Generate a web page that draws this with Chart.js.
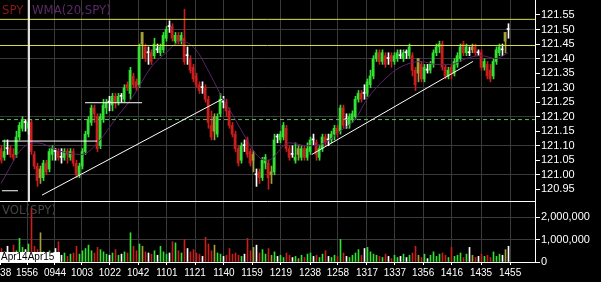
<!DOCTYPE html>
<html><head><meta charset="utf-8">
<script src="https://cdn.jsdelivr.net/npm/chart.js@4.4.0/dist/chart.umd.min.js"></script>
<style>
html,body{margin:0;padding:0;background:#000;width:601px;height:282px;overflow:hidden}
.c{position:absolute;left:0}
.lbl{position:absolute;white-space:nowrap;font-family:"Liberation Sans Narrow","DejaVu Sans Condensed","Liberation Sans",Arial,sans-serif;font-size:13px;line-height:13px}
</style></head><body>
<canvas id="pc" class="c" style="top:0" width="601" height="202"></canvas>
<canvas id="vc" class="c" style="top:202px" width="601" height="80"></canvas>
<div class="lbl" style="left:2px;top:3px;color:#8a1b1b">SPY</div>
<div class="lbl" style="left:32px;top:3px;color:#5b2a68">WMA(20,SPY)</div>
<div class="lbl" style="left:2px;top:203px;color:#454545">VOL(SPY)</div>
<div class="lbl" style="left:0;top:252px;width:60px;height:10px;background:#fff;color:#000;font-family:'Liberation Sans',Arial,sans-serif;font-size:10px;line-height:10px;padding-left:1px;box-sizing:border-box">Apr14Apr15</div>
<script>
// ---------- data ----------
const opens = [
121.09,121.06,121.09,121.09,121.07,121.07,121.13,121.16,121.18,121.16,
121.18,121.07,121.03,121.02,120.99,121.04,121.02,121.07,121.08,121.08,
121.06,121.06,121.08,121.06,121.08,121.04,121.00,121.03,121.08,121.14,
121.18,121.23,121.20,121.10,121.19,121.23,121.25,121.24,121.27,121.25,
121.27,121.26,121.31,121.28,121.34,121.32,121.31,121.49,121.44,121.42,
121.42,121.41,121.43,121.42,121.43,121.47,121.51,121.51,121.46,121.48,
121.46,121.47,121.41,121.40,121.37,121.34,121.31,121.30,121.30,121.26,
121.17,121.20,121.14,121.21,121.25,121.25,121.22,121.17,121.14,121.09,
121.05,121.10,121.12,121.08,121.07,121.00,121.01,120.99,121.04,121.04,
121.01,121.01,121.13,121.12,121.13,121.16,121.09,121.07,121.05,121.09,
121.06,121.09,121.06,121.08,121.12,121.11,121.06,121.09,121.13,121.12,
121.12,121.14,121.16,121.15,121.23,121.19,121.17,121.19,121.20,121.26,
121.28,121.28,121.28,121.31,121.34,121.40,121.42,121.39,121.41,121.40,
121.41,121.39,121.40,121.41,121.40,121.42,121.41,121.41,121.36,121.40,
121.38,121.33,121.36,121.36,121.38,121.42,121.44,121.45,121.37,121.34,
121.37,121.35,121.38,121.40,121.45,121.42,121.42,121.44,121.44,121.42,
121.42,121.37,121.38,121.36,121.34,121.39,121.42,121.43,121.49,121.50];
const highs = [
121.10,121.12,121.12,121.10,121.09,121.15,121.18,121.20,121.19,121.19,
121.19,121.08,121.04,121.03,121.05,121.05,121.09,121.10,121.09,121.09,
121.09,121.09,121.09,121.09,121.09,121.05,121.04,121.09,121.15,121.20,
121.24,121.24,121.21,121.21,121.26,121.26,121.27,121.28,121.28,121.28,
121.28,121.31,121.32,121.37,121.35,121.33,121.45,121.49,121.45,121.44,
121.43,121.47,121.45,121.45,121.49,121.51,121.53,121.52,121.49,121.49,
121.49,121.57,121.44,121.41,121.38,121.35,121.32,121.32,121.31,121.27,
121.22,121.21,121.21,121.28,121.27,121.26,121.23,121.18,121.15,121.10,
121.11,121.12,121.13,121.09,121.08,121.02,121.02,121.06,121.07,121.05,
121.03,121.14,121.14,121.15,121.18,121.17,121.10,121.10,121.11,121.10,
121.10,121.10,121.11,121.13,121.14,121.12,121.10,121.14,121.14,121.14,
121.15,121.17,121.17,121.24,121.24,121.21,121.21,121.22,121.27,121.29,
121.29,121.31,121.33,121.36,121.41,121.43,121.43,121.43,121.42,121.42,
121.42,121.42,121.43,121.43,121.43,121.43,121.45,121.42,121.37,121.40,
121.39,121.38,121.38,121.39,121.43,121.45,121.46,121.46,121.38,121.37,
121.38,121.40,121.42,121.45,121.46,121.45,121.44,121.45,121.45,121.43,
121.43,121.40,121.39,121.38,121.40,121.44,121.45,121.45,121.49,121.52];
const lows = [
121.04,121.05,121.07,121.06,121.05,121.06,121.12,121.15,121.15,121.14,
121.07,121.02,120.96,120.97,120.98,121.00,121.01,121.05,121.05,121.05,
121.04,121.05,121.04,121.05,121.03,120.99,120.99,121.02,121.07,121.13,
121.17,121.18,121.08,121.09,121.18,121.21,121.22,121.22,121.23,121.24,
121.25,121.25,121.29,121.26,121.30,121.29,121.30,121.40,121.39,121.38,
121.38,121.40,121.42,121.41,121.42,121.46,121.49,121.46,121.45,121.45,
121.45,121.38,121.38,121.35,121.32,121.30,121.28,121.28,121.25,121.16,
121.12,121.12,121.13,121.20,121.23,121.20,121.16,121.13,121.08,121.03,
121.04,121.08,121.06,121.03,121.01,120.96,120.97,120.98,121.02,120.95,
120.97,121.00,121.11,121.11,121.12,121.08,121.05,121.06,121.04,121.05,
121.05,121.05,121.05,121.07,121.10,121.05,121.05,121.08,121.10,121.10,
121.11,121.12,121.13,121.14,121.16,121.16,121.16,121.18,121.19,121.25,
121.25,121.26,121.27,121.30,121.33,121.39,121.38,121.38,121.37,121.38,
121.37,121.38,121.39,121.40,121.39,121.40,121.40,121.34,121.29,121.32,
121.32,121.32,121.35,121.35,121.37,121.41,121.42,121.36,121.33,121.33,
121.33,121.34,121.37,121.39,121.41,121.41,121.41,121.42,121.41,121.41,
121.36,121.36,121.33,121.32,121.33,121.38,121.41,121.41,121.42,121.47];
const closes = [
121.05,121.08,121.09,121.07,121.06,121.13,121.17,121.19,121.18,121.18,
121.08,121.03,120.98,120.99,121.04,121.01,121.08,121.09,121.08,121.06,
121.06,121.08,121.07,121.08,121.04,121.00,121.03,121.08,121.14,121.19,
121.23,121.21,121.09,121.20,121.24,121.25,121.25,121.27,121.25,121.27,
121.27,121.30,121.30,121.36,121.31,121.30,121.44,121.45,121.40,121.42,
121.39,121.45,121.43,121.44,121.48,121.50,121.51,121.47,121.48,121.46,
121.48,121.39,121.41,121.36,121.33,121.31,121.29,121.30,121.26,121.18,
121.13,121.15,121.20,121.26,121.25,121.22,121.17,121.14,121.09,121.04,
121.10,121.10,121.07,121.04,121.05,121.00,120.99,121.05,121.06,120.99,
121.00,121.12,121.13,121.14,121.17,121.09,121.06,121.07,121.06,121.07,
121.09,121.06,121.09,121.12,121.12,121.07,121.09,121.13,121.11,121.12,
121.14,121.16,121.14,121.23,121.17,121.19,121.20,121.21,121.26,121.28,
121.26,121.28,121.32,121.34,121.40,121.42,121.39,121.42,121.38,121.40,
121.39,121.41,121.42,121.41,121.42,121.42,121.44,121.36,121.31,121.35,
121.33,121.37,121.36,121.38,121.42,121.44,121.45,121.37,121.34,121.36,
121.35,121.39,121.41,121.44,121.42,121.44,121.42,121.43,121.42,121.42,
121.37,121.39,121.34,121.33,121.39,121.43,121.44,121.43,121.46,121.50];
const volumes = [
600000,450000,700000,350000,750000,500000,1050000,650000,550000,800000,
2400000,700000,550000,1300000,450000,400000,500000,350000,600000,900000,
300000,400000,250000,350000,400000,700000,350000,500000,600000,750000,
500000,400000,650000,550000,450000,350000,300000,400000,550000,300000,
350000,450000,400000,1300000,700000,500000,800000,700000,450000,400000,
350000,500000,300000,700000,450000,350000,400000,900000,850000,500000,
400000,1000000,600000,450000,550000,400000,350000,250000,1100000,800000,
500000,750000,400000,350000,250000,300000,600000,350000,400000,300000,
250000,350000,1050000,500000,650000,750000,400000,550000,350000,600000,
300000,450000,250000,300000,200000,400000,300000,200000,250000,150000,
300000,200000,350000,400000,250000,300000,200000,350000,500000,250000,
200000,300000,250000,1000000,400000,250000,200000,300000,400000,550000,
300000,600000,650000,450000,350000,300000,250000,200000,350000,250000,
150000,300000,200000,250000,350000,200000,300000,400000,700000,300000,
200000,350000,150000,300000,450000,250000,350000,400000,300000,200000,
650000,250000,300000,400000,200000,350000,650000,300000,200000,250000,
350000,250000,300000,200000,450000,250000,350000,300000,550000,700000];
// WMA(20) at selected bars
const wmaIdx  = [0,7,12,20,27,33,38,44,50,55,60,65,69,73,77,82,86,89,96,102,108,113,118,122,128,133,140,145,150,155,160,165,169];
const wmaVals = [120.97,121.09,121.11,121.08,121.07,121.12,121.19,121.27,121.37,121.42,121.46,121.43,121.36,121.28,121.21,121.12,121.06,121.05,121.11,121.10,121.11,121.15,121.19,121.26,121.33,121.37,121.39,121.38,121.38,121.40,121.41,121.40,121.42];
// time axis ticks (bar positions) and labels
const timeTickIdx = [-0.3,8.67,18,27,36.3,45.7,55.3,64.7,74.3,83.7,93.3,103,112.3,122,131.3,140.7,150.3,160,169.7];
const timeLabels  = ['1538','1556','0944','1003','1022','1042','1101','1121','1140','1159','1219','1238','1258','1317','1337','1356','1416','1435','1455'];
const priceTicks = [120.95,121.00,121.05,121.10,121.15,121.20,121.25,121.30,121.35,121.40,121.45,121.50,121.55];
const volumeTicks = [0,1000000,2000000];
// drawn annotations
const yellowLevels = [121.535,121.445];
const greenLevel = 121.19;
const trend1 = [{x:13.67,y:120.93},{x:73.67,y:121.26}];
const trend2 = [{x:103.6,y:121.07},{x:157.3,y:121.39}];
const hSegments = [[0.33,32,121.116],[28,47,121.248],[0.33,5.67,120.945]];
const crosshairIdx = 9.33;

// ---------- setup ----------
Chart.defaults.font.family = '"Liberation Sans", Arial, sans-serif';
Chart.defaults.color = '#ffffff';
const X_MIN = -1/3, X_MAX = 178;
const P_MIN = 120.9063, P_MAX = 121.6016;
const V_MAX = 2666667;
const GRID = '#3a3a3a';
const COL = {up:'#35e035', down:'#c81e1e', fade:'#a3a03c', doji:'#ffffff'};

function colorAt(i){
  const o = opens[i], c = closes[i];
  if (c === o) return COL.doji;
  if (c > o) return COL.up;
  const pc = i > 0 ? closes[i-1] : Infinity;
  return c > pc ? COL.fade : COL.down;
}
const idx = opens.map((_, i) => i);
const colors = idx.map(colorAt);

function xTicks(s){
  s.ticks = timeTickIdx.filter(v => v >= X_MIN && v <= X_MAX).map(v => ({value:v}));
}
const seg = (x0, x1, y) => [{x:x0,y},{x:x1,y}];
const lineDs = (data, color, extra) => Object.assign({type:'line', data, borderColor:color, borderWidth:1, pointRadius:0, fill:false, order:0}, extra||{});

const datasets = [
  ...yellowLevels.map(l => lineDs(seg(X_MIN, X_MAX, l), '#dede48', {order:1})),
  lineDs(seg(X_MIN, X_MAX, greenLevel), '#5cc05c', {borderDash:[4,3], order:1}),
  lineDs([{x:crosshairIdx,y:P_MAX},{x:crosshairIdx,y:P_MIN}], '#ffffff'),
  lineDs(trend1, '#ffffff'),
  lineDs(trend2, '#ffffff'),
  ...hSegments.map(s => lineDs(seg(s[0], s[1], s[2]), '#ffffff')),
  lineDs(wmaIdx.map((x, k) => ({x, y:wmaVals[k]})), '#5b2468', {cubicInterpolationMode:'monotone', order:2}),
  {type:'bar', data: idx.map(i => ({x:i, y:[Math.min(opens[i],closes[i]), Math.max(opens[i],closes[i])]})),
   backgroundColor: colors, barThickness:2, minBarLength:1, grouped:false, order:3},
  {type:'bar', xAxisID:'xw', data: idx.map(i => ({x:i, y:[lows[i], highs[i]]})),
   backgroundColor: colors, barThickness:1, grouped:false, order:4}
];

new Chart(document.getElementById('pc'), {
  type:'bar',
  data:{datasets},
  options:{
    responsive:false, animation:false,
    layout:{padding:0},
    plugins:{legend:{display:false}, tooltip:{enabled:false}},
    scales:{
      x:{type:'linear', min:X_MIN, max:X_MAX, offset:false,
         afterBuildTicks:xTicks,
         afterFit:s => {s.height = 0; s.paddingLeft = 0; s.paddingRight = 0;},
         ticks:{display:false},
         grid:{offset:false, drawTicks:false, color:c => (c.tick && c.tick.value < 0) ? 'transparent' : GRID},
         border:{display:false}},
      xw:{type:'linear', display:false, offset:false, min:X_MIN - 1/6, max:X_MAX - 1/6},
      y:{position:'right', min:P_MIN, max:P_MAX,
         afterBuildTicks:s => {s.ticks = priceTicks.map(v => ({value:v}));},
         afterFit:s => {s.width = 66; s.paddingTop = 0; s.paddingBottom = 0;},
         ticks:{color:'#ffffff', font:{size:11}, padding:1, autoSkip:false, callback:v => v.toFixed(2)},
         grid:{color:c => (c.tick && Math.round(c.tick.value*100) % 10 === 0) ? GRID : 'transparent', tickColor:'#ffffff', tickLength:5},
         border:{color:'#ffffff'}}
    }
  },
  plugins:[{id:'sep', afterDraw(chart){
    const {ctx, chartArea:a} = chart;
    ctx.save(); ctx.strokeStyle = '#ffffff'; ctx.lineWidth = 1;
    ctx.beginPath(); ctx.moveTo(a.left, a.bottom - 0.5); ctx.lineTo(a.right, a.bottom - 0.5); ctx.stroke();
    ctx.restore();
  }}]
});

new Chart(document.getElementById('vc'), {
  type:'bar',
  data:{datasets:[{xAxisID:'xw', data: idx.map(i => ({x:i, y:volumes[i]})), backgroundColor: colors, barThickness:1, grouped:false}]},
  options:{
    responsive:false, animation:false,
    layout:{padding:0},
    plugins:{legend:{display:false}, tooltip:{enabled:false}},
    scales:{
      x:{type:'linear', min:X_MIN, max:X_MAX, offset:false,
         afterBuildTicks:xTicks,
         afterFit:s => {s.height = 20; s.paddingLeft = 0; s.paddingRight = 0;},
         ticks:{color:'#ffffff', font:{size:10}, padding:2, autoSkip:false, maxRotation:0, minRotation:0,
                callback:v => { const k = timeTickIdx.indexOf(v); return k >= 0 ? timeLabels[k] : ''; }},
         grid:{offset:false, color:c => (c.tick && c.tick.value < 0) ? 'transparent' : GRID, tickColor:'#ffffff', tickLength:3},
         border:{color:'#ffffff'}},
      xw:{type:'linear', display:false, offset:false, min:X_MIN - 1/6, max:X_MAX - 1/6},
      y:{position:'right', min:0, max:V_MAX,
         afterBuildTicks:s => {s.ticks = volumeTicks.map(v => ({value:v}));},
         afterFit:s => {s.width = 66; s.paddingTop = 0; s.paddingBottom = 0;},
         ticks:{color:'#ffffff', font:{size:11}, padding:1, autoSkip:false, callback:v => v.toLocaleString('en-US')},
         grid:{color:c => (c.tick && c.tick.value === 0) ? 'transparent' : GRID, tickColor:'#ffffff', tickLength:5},
         border:{color:'#ffffff'}}
    }
  }
});
</script>
</body></html>
